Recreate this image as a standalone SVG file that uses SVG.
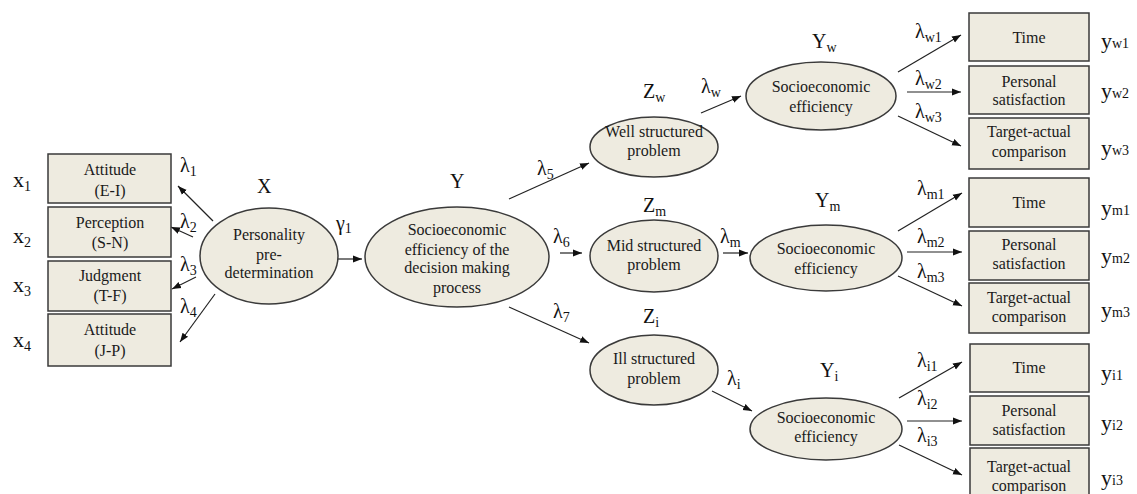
<svg xmlns="http://www.w3.org/2000/svg" width="1137" height="494" viewBox="0 0 1137 494">
<style>
.shape{fill:#EEEBE0;stroke:#3a3a3a;stroke-width:1.5}
.nt{font-family:"Liberation Serif","Times New Roman",serif;font-size:16px;text-anchor:middle;fill:#1a1a1a}
.lb{font-family:"Liberation Serif","Times New Roman",serif;font-size:20px;fill:#111}
.lx{font-family:"Liberation Serif","Times New Roman",serif;font-size:22px;fill:#111}
.sb{font-size:14px}
.conn line{stroke:#222;stroke-width:1.2;marker-end:url(#ah)}
</style>
<defs>
<marker id="ah" viewBox="0 0 10 10" refX="10" refY="5" markerWidth="9" markerHeight="9" markerUnits="userSpaceOnUse" orient="auto">
<path d="M0,1.2 L10,5 L0,8.8 z" fill="#111"/>
</marker>
</defs>
<rect width="1137" height="494" fill="#ffffff"/>

<g id="conn" class="conn">
<line x1="213" y1="221" x2="178" y2="186"/>
<line x1="193" y1="237" x2="171" y2="227"/>
<line x1="196" y1="277" x2="172" y2="289"/>
<line x1="215" y1="294" x2="180" y2="342"/>
<line x1="338" y1="259" x2="362" y2="259"/>
<line x1="509" y1="199" x2="589" y2="163"/>
<line x1="560" y1="253" x2="582" y2="253"/>
<line x1="509" y1="307" x2="589" y2="343"/>
<line x1="701" y1="113" x2="741" y2="96"/>
<line x1="723" y1="253" x2="748" y2="253"/>
<line x1="712" y1="391" x2="752" y2="411"/>
<line x1="898" y1="72" x2="961" y2="35"/>
<line x1="907" y1="92" x2="961" y2="92"/>
<line x1="898" y1="116" x2="961" y2="146"/>
<line x1="898" y1="231" x2="962" y2="193"/>
<line x1="907" y1="252" x2="962" y2="252"/>
<line x1="898" y1="276" x2="962" y2="306"/>
<line x1="899" y1="398" x2="962" y2="362"/>
<line x1="907" y1="421" x2="962" y2="421"/>
<line x1="899" y1="445" x2="962" y2="475"/>
</g>

<g id="x1box"><rect class="shape" x="48" y="154" width="123" height="49"/><text class="nt" x="110" y="175">Attitude</text><text class="nt" x="110" y="196">(E-I)</text></g>
<g id="x2box"><rect class="shape" x="48" y="207" width="123" height="50"/><text class="nt" x="110" y="228">Perception</text><text class="nt" x="110" y="248">(S-N)</text></g>
<g id="x3box"><rect class="shape" x="48" y="261" width="123" height="50"/><text class="nt" x="110" y="281">Judgment</text><text class="nt" x="110" y="301">(T-F)</text></g>
<g id="x4box"><rect class="shape" x="48" y="314" width="123" height="52"/><text class="nt" x="110" y="335">Attitude</text><text class="nt" x="110" y="356">(J-P)</text></g>

<g id="personality"><ellipse class="shape" cx="269" cy="256" rx="69" ry="48"/><text class="nt" x="269" y="240">Personality</text><text class="nt" x="269" y="260">pre-</text><text class="nt" x="269" y="278">determination</text></g>

<g id="ynode"><ellipse class="shape" cx="457" cy="257" rx="92" ry="50"/><text class="nt" x="457" y="235">Socioeconomic</text><text class="nt" x="457" y="255">efficiency of the</text><text class="nt" x="457" y="273">decision making</text><text class="nt" x="457" y="293">process</text></g>

<g id="well"><ellipse class="shape" cx="654" cy="147" rx="64" ry="30"/><text class="nt" x="654" y="137">Well structured</text><text class="nt" x="654" y="156">problem</text></g>
<g id="mid"><ellipse class="shape" cx="654" cy="256" rx="64" ry="36"/><text class="nt" x="654" y="251">Mid structured</text><text class="nt" x="654" y="270">problem</text></g>
<g id="ill"><ellipse class="shape" cx="654" cy="370" rx="64" ry="35"/><text class="nt" x="654" y="364">Ill structured</text><text class="nt" x="654" y="384">problem</text></g>

<g id="socw"><ellipse class="shape" cx="821" cy="96" rx="75" ry="34"/><text class="nt" x="821" y="92">Socioeconomic</text><text class="nt" x="821" y="112">efficiency</text></g>
<g id="socm"><ellipse class="shape" cx="826" cy="258" rx="76" ry="33"/><text class="nt" x="826" y="254">Socioeconomic</text><text class="nt" x="826" y="274">efficiency</text></g>
<g id="soci"><ellipse class="shape" cx="826" cy="429" rx="76" ry="31"/><text class="nt" x="826" y="423">Socioeconomic</text><text class="nt" x="826" y="442">efficiency</text></g>

<g id="yw1"><rect class="shape" x="969" y="13" width="120" height="48"/><text class="nt" x="1029" y="43">Time</text></g>
<g id="yw2"><rect class="shape" x="969" y="66" width="120" height="48"/><text class="nt" x="1029" y="87">Personal</text><text class="nt" x="1029" y="105">satisfaction</text></g>
<g id="yw3"><rect class="shape" x="969" y="118" width="120" height="51"/><text class="nt" x="1029" y="137">Target-actual</text><text class="nt" x="1029" y="157">comparison</text></g>

<g id="ym1"><rect class="shape" x="969" y="178" width="120" height="49"/><text class="nt" x="1029" y="208">Time</text></g>
<g id="ym2"><rect class="shape" x="969" y="231" width="120" height="49"/><text class="nt" x="1029" y="250">Personal</text><text class="nt" x="1029" y="269">satisfaction</text></g>
<g id="ym3"><rect class="shape" x="969" y="283" width="120" height="50"/><text class="nt" x="1029" y="303">Target-actual</text><text class="nt" x="1029" y="322">comparison</text></g>

<g id="yi1"><rect class="shape" x="970" y="344" width="119" height="48"/><text class="nt" x="1029" y="373">Time</text></g>
<g id="yi2"><rect class="shape" x="970" y="396" width="119" height="49"/><text class="nt" x="1029" y="416">Personal</text><text class="nt" x="1029" y="435">satisfaction</text></g>
<g id="yi3"><rect class="shape" x="970" y="448" width="119" height="52"/><text class="nt" x="1029" y="472">Target-actual</text><text class="nt" x="1029" y="491">comparison</text></g>

<g id="labels">
<text class="lx" x="13" y="187">x<tspan class="sb" dy="4">1</tspan></text>
<text class="lx" x="13" y="243">x<tspan class="sb" dy="4">2</tspan></text>
<text class="lx" x="13" y="292">x<tspan class="sb" dy="4">3</tspan></text>
<text class="lx" x="13" y="347">x<tspan class="sb" dy="4">4</tspan></text>
<text class="lb" x="180" y="172">λ<tspan class="sb" dy="4">1</tspan></text>
<text class="lb" x="180" y="228">λ<tspan class="sb" dy="4">2</tspan></text>
<text class="lb" x="180" y="271">λ<tspan class="sb" dy="4">3</tspan></text>
<text class="lb" x="180" y="313">λ<tspan class="sb" dy="4">4</tspan></text>
<text class="lb" x="257" y="193">X</text>
<text class="lb" x="336" y="230">γ<tspan class="sb" dy="3">1</tspan></text>
<text class="lb" x="450" y="188">Y</text>
<text class="lb" x="537" y="175">λ<tspan class="sb" dy="4">5</tspan></text>
<text class="lb" x="553" y="243">λ<tspan class="sb" dy="4">6</tspan></text>
<text class="lb" x="553" y="318">λ<tspan class="sb" dy="4">7</tspan></text>
<text class="lb" x="643" y="98">Z<tspan class="sb" dy="4">w</tspan></text>
<text class="lb" x="643" y="212">Z<tspan class="sb" dy="4">m</tspan></text>
<text class="lb" x="643" y="323">Z<tspan class="sb" dy="4">i</tspan></text>
<text class="lb" x="701" y="93">λ<tspan class="sb" dy="4">w</tspan></text>
<text class="lb" x="720" y="243">λ<tspan class="sb" dy="4">m</tspan></text>
<text class="lb" x="727" y="385">λ<tspan class="sb" dy="4">i</tspan></text>
<text class="lb" x="812" y="48">Y<tspan class="sb" dy="4">w</tspan></text>
<text class="lb" x="815" y="207">Y<tspan class="sb" dy="4">m</tspan></text>
<text class="lb" x="820" y="377">Y<tspan class="sb" dy="4">i</tspan></text>
<text class="lb" x="915" y="38">λ<tspan class="sb" dy="4">w1</tspan></text>
<text class="lb" x="915" y="85">λ<tspan class="sb" dy="4">w2</tspan></text>
<text class="lb" x="915" y="118">λ<tspan class="sb" dy="4">w3</tspan></text>
<text class="lb" x="917" y="195">λ<tspan class="sb" dy="4">m1</tspan></text>
<text class="lb" x="917" y="243">λ<tspan class="sb" dy="4">m2</tspan></text>
<text class="lb" x="917" y="278">λ<tspan class="sb" dy="4">m3</tspan></text>
<text class="lb" x="917" y="367">λ<tspan class="sb" dy="4">i1</tspan></text>
<text class="lb" x="917" y="405">λ<tspan class="sb" dy="4">i2</tspan></text>
<text class="lb" x="917" y="442">λ<tspan class="sb" dy="4">i3</tspan></text>
<text class="lx" x="1101" y="48">y<tspan class="sb" dy="0">w1</tspan></text>
<text class="lx" x="1101" y="98">y<tspan class="sb" dy="0">w2</tspan></text>
<text class="lx" x="1101" y="155">y<tspan class="sb" dy="0">w3</tspan></text>
<text class="lx" x="1101" y="215">y<tspan class="sb" dy="0">m1</tspan></text>
<text class="lx" x="1101" y="263">y<tspan class="sb" dy="0">m2</tspan></text>
<text class="lx" x="1101" y="317">y<tspan class="sb" dy="0">m3</tspan></text>
<text class="lx" x="1101" y="380">y<tspan class="sb" dy="0">i1</tspan></text>
<text class="lx" x="1101" y="430">y<tspan class="sb" dy="0">i2</tspan></text>
<text class="lx" x="1101" y="485">y<tspan class="sb" dy="0">i3</tspan></text>
</g>
</svg>
